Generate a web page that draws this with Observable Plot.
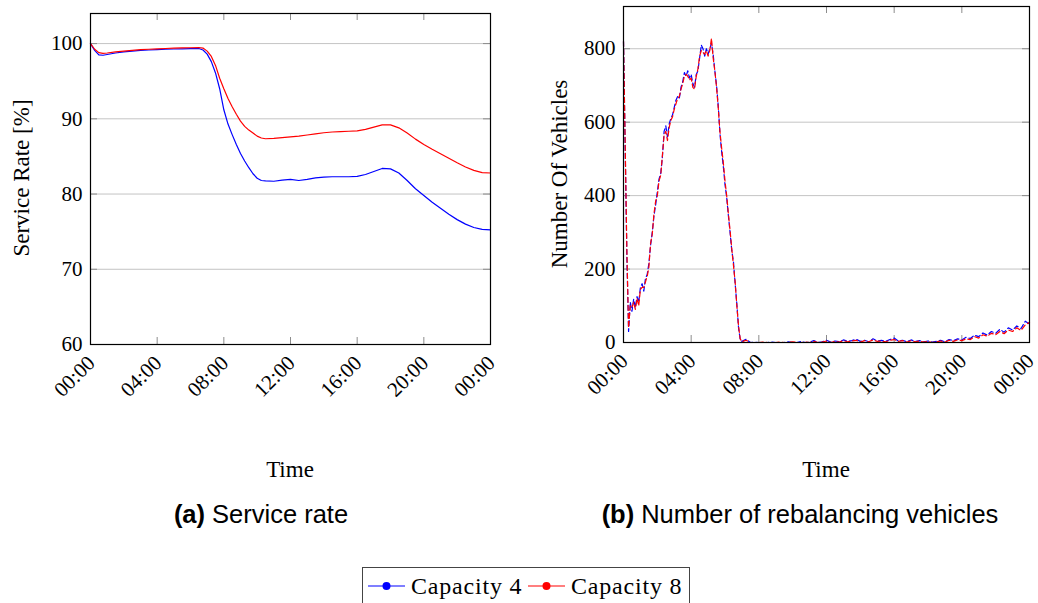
<!DOCTYPE html>
<html>
<head>
<meta charset="utf-8">
<script src="https://cdn.jsdelivr.net/npm/d3@7"></script>
<script src="https://cdn.jsdelivr.net/npm/@observablehq/plot@0.6"></script>
<style>
  html, body { margin: 0; padding: 0; background: #fff; }
  #fig { position: relative; width: 1038px; height: 603px; overflow: hidden; background: #fff; }
  #fig svg.chart { position: absolute; top: 0; }
  .serif { font-family: "Liberation Serif", "Times New Roman", serif; color: #000; }
  .axis-title { position: absolute; font-size: 23px; line-height: 23px; white-space: nowrap; }
  .y-title { transform: translate(-50%, -50%) rotate(-90deg); }
  .x-title { transform: translateX(-50%); }
  .caption { position: absolute; font-family: "Liberation Sans", Arial, sans-serif; font-size: 25.5px; line-height: 25.5px; white-space: nowrap; transform: translateX(-50%); color: #000; }
  .caption b { font-weight: bold; margin-right: 7px; }
  #legend { position: absolute; left: 362px; top: 567px; width: 328px; height: 48px; border: 1px solid #444; box-sizing: border-box; }
  #legend .item { position: absolute; top: 5px; display: flex; align-items: center; height: 26px; font-size: 24px; letter-spacing: 0.8px; }
  #legend svg { margin-right: 6px; }
</style>
</head>
<body>
<div id="fig"></div>
<script>
// Time axis (hours since midnight) and its labels
const timeTicks = [0, 4, 8, 12, 16, 20, 24];
const timeLabels = ["00:00", "04:00", "08:00", "12:00", "16:00", "20:00", "00:00"];
const seriesNames = ["Capacity 4", "Capacity 8"];
const seriesColors = ["blue", "red"];

// (a) Service rate [%]
const rateTicks = [60, 70, 80, 90, 100];
const hoursA = [0, 0.25, 0.5, 0.75, 1, 1.5, 2, 2.5, 3, 3.5, 4, 4.5, 5, 5.5, 6, 6.5, 6.75,
  7, 7.25, 7.5, 7.75, 8, 8.25, 8.5, 8.75, 9, 9.25, 9.5, 9.75, 10, 10.25, 10.5, 11, 11.5,
  12, 12.5, 13, 13.5, 14, 14.5, 15, 15.5, 16, 16.5, 17, 17.5, 18, 18.5, 19, 19.5, 20,
  20.5, 21, 21.5, 22, 22.5, 23, 23.5, 24];
const rateCap4 = [100, 99.1, 98.5, 98.45, 98.55, 98.75, 98.9, 99.0, 99.1, 99.15, 99.2, 99.25, 99.28, 99.3, 99.32, 99.35, 99.15,
  98.6, 97.6, 96.1, 94.0, 91.2, 89.3, 87.9, 86.6, 85.4, 84.4, 83.5, 82.7, 82.1, 81.8, 81.75, 81.7, 81.85,
  81.95, 81.8, 81.95, 82.15, 82.25, 82.3, 82.3, 82.3, 82.35, 82.6, 83.0, 83.4, 83.35, 82.8, 81.8, 80.7, 79.8,
  78.9, 78.1, 77.3, 76.6, 76.0, 75.55, 75.3, 75.25];
const rateCap8 = [100, 99.25, 98.8, 98.7, 98.75, 98.9, 99.0, 99.1, 99.2, 99.25, 99.3, 99.35, 99.4, 99.42, 99.45, 99.48, 99.4,
  99.0, 98.3, 97.1, 95.4, 94.0, 92.7, 91.6, 90.6, 89.7, 89.0, 88.5, 88.1, 87.7, 87.45, 87.35, 87.4, 87.5,
  87.6, 87.7, 87.85, 88.0, 88.15, 88.25, 88.3, 88.35, 88.4, 88.6, 88.9, 89.2, 89.2, 88.8, 88.1, 87.3, 86.6,
  85.95, 85.35, 84.75, 84.15, 83.6, 83.15, 82.85, 82.8];

// (b) Number of rebalancing vehicles
const vehicleTicks = [0, 200, 400, 600, 800];
const hoursB = [0, 0.1, 0.2, 0.3, 0.4, 0.5, 0.6, 0.7, 0.8, 0.9, 1, 1.1, 1.2, 1.3, 1.4, 1.5, 1.6, 1.7, 1.8, 1.9,
  2, 2.1, 2.2, 2.3, 2.4, 2.5, 2.6, 2.7, 2.8, 2.9, 3, 3.1, 3.2, 3.3, 3.4, 3.5, 3.6, 3.7, 3.8, 3.9,
  4, 4.1, 4.2, 4.3, 4.4, 4.5, 4.6, 4.7, 4.8, 4.9, 5, 5.1, 5.2, 5.3, 5.4, 5.5, 5.6, 5.7, 5.8, 5.9,
  6, 6.1, 6.2, 6.3, 6.4, 6.5, 6.6, 6.7, 6.8, 6.9, 7,
  7.25, 7.5, 7.75, 8, 8.25, 8.5, 8.75, 9, 9.25, 9.5, 9.75, 10, 10.25, 10.5, 10.75, 11, 11.25, 11.5, 11.75,
  12, 12.25, 12.5, 12.75, 13, 13.25, 13.5, 13.75, 14, 14.25, 14.5, 14.75, 15, 15.25, 15.5, 15.75,
  16, 16.25, 16.5, 16.75, 17, 17.25, 17.5, 17.75, 18, 18.25, 18.5, 18.75, 19, 19.25, 19.5, 19.75,
  20, 20.25, 20.5, 20.75, 21, 21.25, 21.5, 21.75, 22, 22.25, 22.5, 22.75, 23, 23.25, 23.5, 23.75, 24];
const vehCap4 = [820, 530, 230, 30, 110, 85, 118, 95, 125, 110, 150, 160, 140, 175, 185, 215, 265, 300, 345, 375,
  410, 445, 460, 505, 575, 590, 560, 595, 610, 620, 640, 660, 670, 665, 695, 710, 735, 725, 740, 720,
  730, 705, 695, 730, 740, 775, 810, 800, 780, 800, 785, 800, 815, 785, 740, 700, 645, 570, 520, 480,
  430, 395, 345, 300, 250, 220, 160, 105, 40, 8, 3,
  9, 0, 1, 0, 0, 0, 1, 0, 0, 0, 2, 0, 0, 3, 0, 1, 5, 0, 2,
  6, 1, 4, 2, 7, 3, 5, 9, 3, 6, 2, 10, 4, 6, 3, 8,
  12, 4, 6, 2, 7, 3, 5, 2, 4, 1, 3, 6, 2, 8, 5, 10,
  7, 14, 11, 20, 16, 26, 20, 30, 25, 36, 28, 40, 34, 45, 38, 58, 50];
const vehCap8 = [820, 540, 250, 40, 100, 95, 110, 90, 120, 100, 145, 150, 150, 165, 180, 205, 270, 295, 350, 385,
  400, 440, 455, 510, 565, 575, 550, 585, 605, 615, 635, 650, 665, 670, 690, 705, 725, 730, 725, 715,
  720, 695, 690, 725, 745, 780, 795, 790, 785, 795, 780, 795, 828, 775, 740, 695, 640, 575, 530, 490,
  440, 400, 350, 305, 255, 210, 165, 100, 45, 10, 2,
  6, 0, 0, 0, 1, 0, 0, 0, 1, 0, 0, 2, 0, 0, 1, 0, 3, 0, 1,
  4, 0, 3, 1, 5, 2, 4, 6, 1, 5, 2, 7, 3, 4, 2, 6,
  8, 3, 5, 1, 5, 2, 4, 1, 3, 0, 2, 4, 1, 6, 3, 7,
  5, 10, 8, 16, 12, 21, 17, 25, 21, 30, 24, 34, 30, 40, 33, 48, 55];

const rowsA = hoursA.map((h, i) => ({hour: h, cap4: rateCap4[i], cap8: rateCap8[i]}));
const rowsB = hoursB.map((h, i) => ({hour: h, cap4: vehCap4[i], cap8: vehCap8[i]}));

const fontFamily = "'Liberation Serif', 'Times New Roman', serif";
const timeFormat = d => timeLabels[timeTicks.indexOf(d)];

function panel({rows, yTicks, yDomain, width, marginLeft, marginRight, marginTop, marginBottom, dash}) {
  const height = 420;
  const frameW = width - marginLeft - marginRight;
  const frameH = height - marginTop - marginBottom;
  const tickLen = 7;
  const lineStyle = dash ? {strokeDasharray: "5,3"} : {};
  return Plot.plot({
    width, height, marginLeft, marginRight, marginTop, marginBottom,
    style: {fontFamily, fontSize: "21px", color: "#000", background: "#fff", overflow: "visible"},
    x: {domain: [0, 24]},
    y: {domain: yDomain},
    marks: [
      // horizontal grid
      Plot.ruleY(yTicks, {y: d => d, stroke: "#c4c4c4", strokeWidth: 1}),
      // inward tick marks on all four sides
      Plot.tickX(timeTicks, {x: d => d, stroke: "#8c8c8c", insetTop: frameH - tickLen}),
      Plot.tickX(timeTicks, {x: d => d, stroke: "#8c8c8c", insetBottom: frameH - tickLen}),
      Plot.tickY(yTicks, {y: d => d, stroke: "#8c8c8c", insetRight: frameW - tickLen}),
      Plot.tickY(yTicks, {y: d => d, stroke: "#8c8c8c", insetLeft: frameW - tickLen}),
      Plot.axisX({ticks: timeTicks, tickFormat: timeFormat, tickRotate: -45, tickSize: 0,
        tickPadding: 15, dx: 1, label: null, fontSize: 21, fill: "#000"}),
      Plot.axisY({ticks: yTicks, tickSize: 0, tickPadding: 8, label: null, fontSize: 21, fill: "#000"}),
      Plot.line(rows, {x: "hour", y: "cap4", stroke: seriesColors[0], strokeWidth: 1.2, ...lineStyle}),
      Plot.line(rows, {x: "hour", y: "cap8", stroke: seriesColors[1], strokeWidth: 1.2, ...lineStyle}),
      Plot.frame({stroke: "#000", strokeWidth: 1.2})
    ]
  });
}

const fig = document.getElementById("fig");

const chartA = panel({rows: rowsA, yTicks: rateTicks, yDomain: [60, 104], width: 520,
  marginLeft: 90, marginRight: 30, marginTop: 13, marginBottom: 76, dash: false});
chartA.classList.add("chart");
chartA.style.left = "0px";
fig.appendChild(chartA);

const chartB = panel({rows: rowsB, yTicks: vehicleTicks, yDomain: [0, 915], width: 518,
  marginLeft: 103, marginRight: 9, marginTop: 6, marginBottom: 78, dash: true});
chartB.classList.add("chart");
chartB.style.left = "520px";
fig.appendChild(chartB);

function addText(cls, text, left, top) {
  const el = document.createElement("div");
  el.className = cls;
  el.textContent = text;
  el.style.left = left + "px";
  el.style.top = top + "px";
  fig.appendChild(el);
  return el;
}

// axis titles
addText("axis-title serif y-title", "Service Rate [%]", 21, 178);
addText("axis-title serif y-title", "Number Of Vehicles", 559, 174);
addText("axis-title serif x-title", "Time", 290, 458);
addText("axis-title serif x-title", "Time", 826, 458);

// sub-figure captions
function caption(tag, text, center) {
  const el = document.createElement("div");
  el.className = "caption";
  const b = document.createElement("b");
  b.textContent = tag;
  el.appendChild(b);
  el.appendChild(document.createTextNode(text));
  el.style.left = center + "px";
  el.style.top = "502px";
  fig.appendChild(el);
}
caption("(a)", "Service rate", 261);
caption("(b)", "Number of rebalancing vehicles", 800);

// shared legend
const legend = document.createElement("div");
legend.id = "legend";
legend.className = "serif";
fig.appendChild(legend);
const itemLefts = [5, 165];
seriesNames.forEach((name, i) => {
  const item = document.createElement("div");
  item.className = "item";
  item.style.left = itemLefts[i] + "px";
  const ns = "http://www.w3.org/2000/svg";
  const sw = document.createElementNS(ns, "svg");
  sw.setAttribute("width", "37");
  sw.setAttribute("height", "12");
  const ln = document.createElementNS(ns, "line");
  ln.setAttribute("x1", "0"); ln.setAttribute("x2", "37");
  ln.setAttribute("y1", "6"); ln.setAttribute("y2", "6");
  ln.setAttribute("stroke", seriesColors[i]); ln.setAttribute("stroke-width", "1.2");
  const dot = document.createElementNS(ns, "circle");
  dot.setAttribute("cx", "18.5"); dot.setAttribute("cy", "6"); dot.setAttribute("r", "4");
  dot.setAttribute("fill", seriesColors[i]);
  sw.appendChild(ln); sw.appendChild(dot);
  item.appendChild(sw);
  const label = document.createElement("span");
  label.textContent = name;
  item.appendChild(label);
  legend.appendChild(item);
});
</script>
</body>
</html>
